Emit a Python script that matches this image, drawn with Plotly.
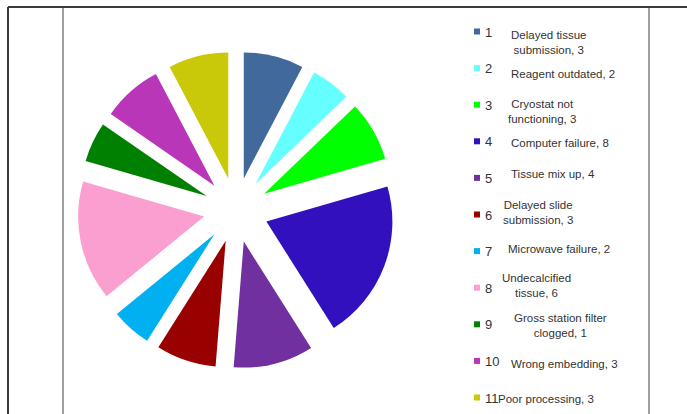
import plotly.graph_objects as go

# ---- data ----
numbers = ["1", "2", "3", "4", "5", "6", "7", "8", "9", "10", "11"]
descriptions = [
    "Delayed tissue<br>submission, 3",
    "Reagent outdated, 2",
    "Cryostat not<br>functioning, 3",
    "Computer failure, 8",
    "Tissue mix up, 4",
    "Delayed slide<br>submission, 3",
    "Microwave failure, 2",
    "Undecalcified<br>tissue, 6",
    "Gross station filter<br>clogged, 1",
    "Wrong embedding, 3",
    "Poor processing, 3",
]
# slice sizes as drawn in the picture
values = [3, 2, 3, 8, 4, 3, 2, 6, 2, 3, 3]
colors = ["#41699c", "#66ffff", "#00ff00", "#3210bd", "#7030a0", "#990000",
          "#00b0f0", "#fa9fd0", "#008000", "#b936b9", "#c9c90a"]

# ---- layout helpers (pixel positions) ----
W, H = 687, 414
def px(x):
    return x / W
def py(y):
    return 1 - y / H

text_cx = [548, 563, 542, 560, 553, 538, 559, 536, 560, 564, 546]
text_cy = [42, 74, 111.5, 143, 174, 213, 249, 285.5, 325.5, 364, 399]
marker_y0, marker_step = 31.5, 36.6

fig = go.Figure()
fig.add_trace(go.Pie(
    labels=numbers,
    values=values,
    marker=dict(colors=colors, line=dict(width=0)),
    sort=False,
    direction="clockwise",
    rotation=0,
    pull=[0.258] * len(values),
    textinfo="none",
    hovertext=[d.replace("<br>", " ") for d in descriptions],
    hoverinfo="text",
    showlegend=False,
    domain=dict(x=[px(77.5), px(394.5)], y=[py(368.5), py(51.5)]),
))

shapes = [
    dict(type="line", xref="paper", yref="paper", x0=px(8), x1=1, y0=py(7), y1=py(7),
         line=dict(color="#3a3a3a", width=2)),
    dict(type="line", xref="paper", yref="paper", x0=px(8), x1=px(8), y0=py(7), y1=0,
         line=dict(color="#3a3a3a", width=2)),
    dict(type="line", xref="paper", yref="paper", x0=px(63), x1=px(63), y0=py(8), y1=0,
         line=dict(color="#a0a0a0", width=2)),
    dict(type="line", xref="paper", yref="paper", x0=px(649), x1=px(649), y0=py(8), y1=0,
         line=dict(color="#a0a0a0", width=2)),
]
annotations = []
for i, (num, desc, col) in enumerate(zip(numbers, descriptions, colors)):
    my = marker_y0 + i * marker_step
    shapes.append(dict(type="rect", xref="paper", yref="paper",
                       x0=px(474), x1=px(480), y0=py(my + 3), y1=py(my - 3),
                       fillcolor=col, line=dict(width=0)))
    annotations.append(dict(x=px(483), y=py(my + 0.5), xref="paper", yref="paper",
                            text=num, showarrow=False, xanchor="left", yanchor="middle",
                            font=dict(family="Liberation Sans, Arial", size=13, color="#333333")))
    annotations.append(dict(x=px(text_cx[i]), y=py(text_cy[i]), xref="paper", yref="paper",
                            text=desc, showarrow=False, xanchor="center", yanchor="middle",
                            align="center",
                            font=dict(family="Liberation Sans, Arial", size=11.5, color="#333333")))

fig.update_layout(
    width=W, height=H,
    margin=dict(l=0, r=0, t=0, b=0),
    paper_bgcolor="white",
    plot_bgcolor="white",
    shapes=shapes,
    annotations=annotations,
)
fig.write_html("out.html", config={"displayModeBar": False},
               post_script="document.body.style.margin='0';document.body.style.overflow='hidden';")
